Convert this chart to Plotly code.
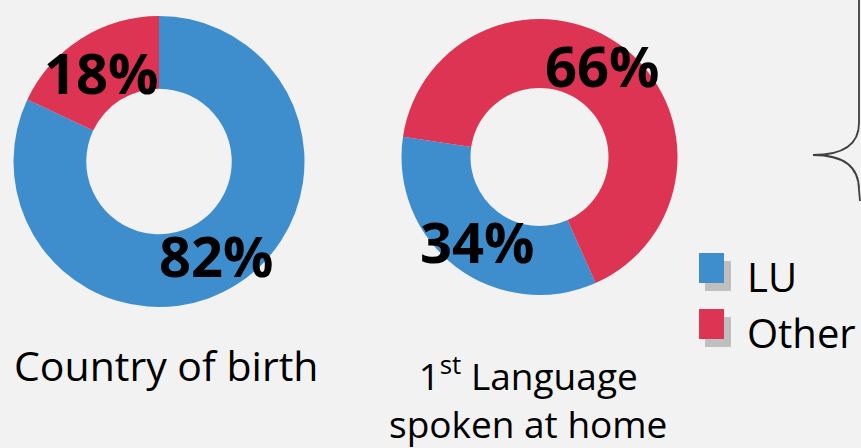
import plotly.graph_objects as go

W, H = 861, 448

categories = ["LU", "Other"]
birth_values = [82, 18]
language_values = [34, 66]
colors = ["#3E8ECE", "#DC3452"]
chart_titles = ["Country of birth", "1<sup>st</sup> Language<br>spoken at home"]

def px(x):
    return x / W

def py(y):
    return 1 - y / H

fig = go.Figure()

fig.add_trace(go.Pie(
    labels=categories, values=birth_values, hole=0.5, sort=False,
    direction="clockwise", rotation=0,
    marker=dict(colors=colors, line=dict(width=0)),
    textinfo="none", hoverinfo="label+percent", showlegend=False,
    domain=dict(x=[px(13.5), px(304.5)], y=[py(307), py(16)]),
))

fig.add_trace(go.Pie(
    labels=categories, values=language_values, hole=0.5, sort=False,
    direction="clockwise", rotation=156,
    marker=dict(colors=colors, line=dict(width=0)),
    textinfo="none", hoverinfo="label+percent", showlegend=False,
    domain=dict(x=[px(401.5), px(677.5)], y=[py(295), py(19)]),
))

pct_labels = [
    (f"{birth_values[1]}%", 101, 72),
    (f"{birth_values[0]}%", 217, 255),
    (f"{language_values[1]}%", 602, 65),
    (f"{language_values[0]}%", 477, 241),
]
annotations = []
for t, x, y in pct_labels:
    annotations.append(dict(text=f"<b>{t}</b>", x=px(x), y=py(y), xref="paper", yref="paper",
                            showarrow=False, xanchor="center", yanchor="middle",
                            font=dict(family="Open Sans", size=56, color="black")))

annotations.append(dict(text=chart_titles[0], x=px(166), y=py(365), xref="paper", yref="paper",
                        showarrow=False, xanchor="center", yanchor="middle",
                        font=dict(family="Open Sans", size=41, color="black")))
annotations.append(dict(text=chart_titles[1], x=px(528), y=py(397), xref="paper", yref="paper",
                        showarrow=False, xanchor="center", yanchor="middle",
                        font=dict(family="Open Sans", size=37, color="black"),
                        align="center"))

# legend
shapes = []
leg_rows = [(categories[0], colors[0], 253), (categories[1], colors[1], 309)]
for name, col, top in leg_rows:
    shapes.append(dict(type="rect", xref="paper", yref="paper",
                       x0=px(705), x1=px(731), y0=py(top + 38), y1=py(top + 8),
                       fillcolor="#BFBFBF", line=dict(width=0)))
    shapes.append(dict(type="rect", xref="paper", yref="paper",
                       x0=px(699), x1=px(724), y0=py(top + 30), y1=py(top),
                       fillcolor=col, line=dict(width=0)))
    annotations.append(dict(text=name, x=px(745), y=py(top + 23), xref="paper", yref="paper",
                            showarrow=False, xanchor="left", yanchor="middle",
                            font=dict(family="Open Sans", size=40, color="black")))

# brace
def P(x, y):
    return f"{px(x):.5f},{py(y):.5f}"
path = (f"M {P(859,0)} L {P(859,123)} Q {P(859,155)} {P(813,155)} "
        f"Q {P(859,155)} {P(859,190)} L {P(860,201)}")
shapes.append(dict(type="path", xref="paper", yref="paper", path=path,
                   line=dict(color="#404040", width=1.8)))

fig.update_layout(
    width=W, height=H,
    margin=dict(l=0, r=0, t=0, b=0),
    paper_bgcolor="#F2F2F2", plot_bgcolor="#F2F2F2",
    annotations=annotations, shapes=shapes,
)

fig.write_html("out.html")
